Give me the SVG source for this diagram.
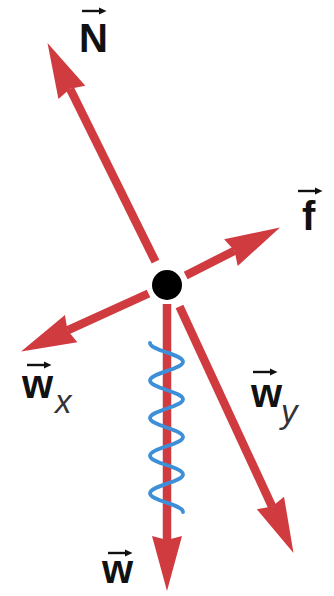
<svg xmlns="http://www.w3.org/2000/svg" width="334" height="596" viewBox="0 0 334 596">
<style>
.shaft{stroke:#d03b40;stroke-width:8.5;fill:none;stroke-linecap:butt}
.lbl{font-family:"Liberation Sans",Arial,sans-serif;font-weight:bold;font-size:40px;fill:#111}
.sub{font-family:"Liberation Sans",Arial,sans-serif;font-style:italic;font-size:33px;fill:#333}
.vec{stroke:#111;stroke-width:2.4;fill:none}
.spring{stroke:#3d8fd8;stroke-width:3.8;fill:none;stroke-linecap:round}
</style>
<defs>
<marker id="head" markerUnits="userSpaceOnUse" orient="auto" markerWidth="60" markerHeight="32" viewBox="0 -16 56 32" refX="4" refY="0">
<path d="M0,-15 L55,0 L0,15 L4,0 Z" fill="#d03b40"/>
</marker>
<marker id="vhead" markerUnits="userSpaceOnUse" orient="auto" markerWidth="10" markerHeight="10" viewBox="0 -5 8 10" refX="1" refY="0">
<path d="M0,-3.6 L7.5,0 L0,3.6 Z" fill="#111"/>
</marker>
</defs>
<rect width="334" height="596" fill="#fff"/>
<g id="connectors">
<line id="arrow-N" class="shaft" x1="155.5" y1="261.7" x2="70.1" y2="88.8" marker-end="url(#head)"/>
<line id="arrow-f" class="shaft" x1="185.7" y1="275.5" x2="234.5" y2="250.7" marker-end="url(#head)"/>
<line id="arrow-wx" class="shaft" x1="148.5" y1="293.5" x2="67.5" y2="330.3" marker-end="url(#head)"/>
<line id="arrow-wy" class="shaft" x1="179.5" y1="306.5" x2="272.1" y2="506.6" marker-end="url(#head)"/>
<line id="arrow-w" class="shaft" x1="167" y1="304" x2="167" y2="540" marker-end="url(#head)"/>
</g>
<g id="spring">
<path class="spring" d="M150,343 C150,350.5 183,354.28 183,361.78 S150,373.06 150,380.56 S183,391.83 183,399.33 S150,410.61 150,418.11 S183,429.39 183,436.89 S150,448.17 150,455.67 S183,466.94 183,474.44 S150,485.72 150,493.22 S183,504.5 183,512"/>
</g>
<g id="body">
<circle cx="167" cy="285" r="15" fill="#000"/>
</g>
<g id="label-N">
<line class="vec" x1="82" y1="11" x2="100" y2="11" marker-end="url(#vhead)"/>
<text class="lbl" x="79" y="52">N</text>
</g>
<g id="label-f">
<line class="vec" x1="298" y1="191" x2="316" y2="191" marker-end="url(#vhead)"/>
<text class="lbl" x="302" y="230">f</text>
</g>
<g id="label-wx">
<line class="vec" x1="27" y1="365" x2="45" y2="365" marker-end="url(#vhead)"/>
<text class="lbl" x="22" y="398">w</text>
<text class="sub" x="55" y="413">x</text>
</g>
<g id="label-wy">
<line class="vec" x1="253" y1="372" x2="271" y2="372" marker-end="url(#vhead)"/>
<text class="lbl" x="251" y="407">w</text>
<text class="sub" x="281" y="423">y</text>
</g>
<g id="label-w">
<line class="vec" x1="108" y1="553" x2="126" y2="553" marker-end="url(#vhead)"/>
<text class="lbl" x="102" y="583">w</text>
</g>
</svg>
